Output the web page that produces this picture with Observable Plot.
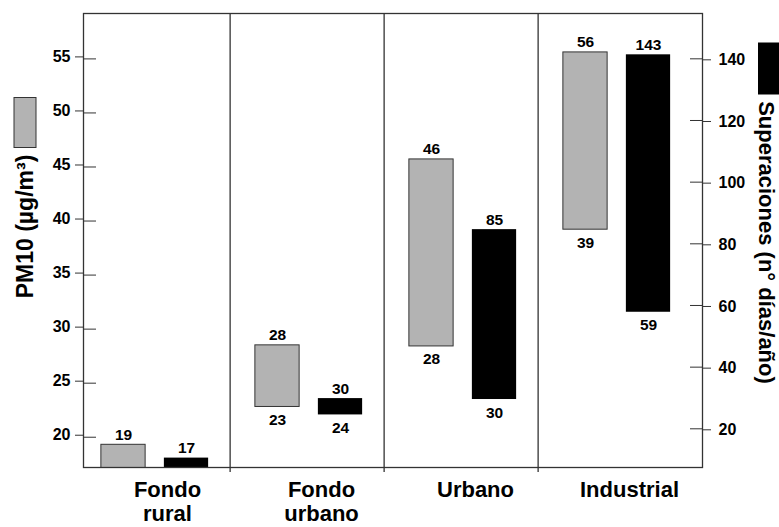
<!DOCTYPE html>
<html><head><meta charset="utf-8">
<script src="https://cdn.jsdelivr.net/npm/d3@7"></script>
<script src="https://cdn.jsdelivr.net/npm/@observablehq/plot@0.6"></script>
<style>
body{margin:0;background:#fff;}
#chart{width:779px;height:527px;}
#chart svg text{font-weight:bold;}
</style></head><body><div id="chart"></div>
<script>
// ---- data ----
const categories = ["Fondo\nrural", "Fondo\nurbano", "Urbano", "Industrial"];
// PM10 (µg/m³): bar extents as drawn + printed labels
const pm10Low  = [15, 22.8, 28.4, 39.2];
const pm10High = [19.3, 28.5, 45.7, 55.6];
const pm10LowLabel  = [null, "23", "28", "39"];
const pm10HighLabel = ["19", "28", "46", "56"];
// Superaciones (nº días/año): bar extents as drawn + printed labels
const supLow  = [0, 24.5, 29.5, 57.8];
const supHigh = [10.5, 29.8, 84.6, 141.3];
const supLowLabel  = [null, "24", "30", "59"];
const supHighLabel = ["17", "30", "85", "143"];
// axes
const pm10Ticks = [20, 25, 30, 35, 40, 45, 50, 55];
const supTicks = [20, 40, 60, 80, 100, 120, 140];
const pm10Domain = [17.2, 59.2];
const supDomain = [7.45, 154.7];
const leftTitle = "PM10 (µg/m³)";
const rightTitle = "Superaciones (n° días/año)";

// ---- layout ----
const W = 779, H = 527, mL = 83, mR = 77, mT = 13, mB = 60;
const plotW = W - mL - mR;
const bw = plotW / categories.length;
const grayCx = -39, blackCx = 24, barW = 45;
const ins = cx => ({insetLeft: bw / 2 + cx - barW / 2, insetRight: bw / 2 - cx - barW / 2});
const toY = d3.scaleLinear().domain(supDomain).range(pm10Domain);
const ink = "#333";
const B = "bold";

const pmRows = categories.map((c, i) => ({cat: c, lo: pm10Low[i], hi: pm10High[i], loL: pm10LowLabel[i], hiL: pm10HighLabel[i]}));
const supRows = categories.map((c, i) => ({cat: c, lo: toY(supLow[i]), hi: toY(supHigh[i]), loL: supLowLabel[i], hiL: supHighLabel[i]}));

const chart = Plot.plot({
  width: W, height: H,
  marginLeft: mL, marginRight: mR, marginTop: mT, marginBottom: mB,
  style: {fontFamily: "'Liberation Sans', Arial, sans-serif", fontWeight: "bold", color: "#000", background: "#fff"},
  x: {type: "band", domain: categories, padding: 0, axis: null},
  y: {domain: pm10Domain, axis: null},
  marks: [
    Plot.barY(pmRows, {x: "cat", y1: "lo", y2: "hi", fill: "#b3b3b3", stroke: ink, strokeWidth: 1, clip: true, ...ins(grayCx)}),
    Plot.barY(supRows, {x: "cat", y1: "lo", y2: "hi", fill: "#000", clip: true, ...ins(blackCx)}),
    Plot.ruleX(categories.slice(1), {x: d => d, dx: -bw / 2 - 9, stroke: ink, strokeWidth: 1.3, insetBottom: -5}),
    Plot.frame({stroke: ink, strokeWidth: 1.3}),
    Plot.tickY(pm10Ticks, {y: d => d, stroke: ink, insetRight: plotW - 13}),
    Plot.tickY(supTicks, {y: d => toY(d), stroke: ink, insetLeft: plotW - 12}),
    Plot.axisY(pm10Ticks, {anchor: "left", tickSize: 8, tickPadding: 5, fontSize: 16, fontWeight: B, label: null, stroke: ink, dy: -2}),
    Plot.axisY(supTicks.map(d => toY(d)), {anchor: "right", tickSize: 8, tickPadding: 8, fontSize: 16, fontWeight: B, label: null, stroke: ink,
      tickFormat: d => String(Math.round(toY.invert(d))), dy: 1}),
    Plot.axisX({anchor: "bottom", tickSize: 0, tickPadding: 12, fontSize: 22, fontWeight: B, lineHeight: 1.1, label: null, dx: 5}),
    Plot.text(pmRows.filter(d => d.hiL), {x: "cat", y: "hi", text: "hiL", dx: grayCx, dy: -5, lineAnchor: "bottom", fontSize: 15.5, fontWeight: B}),
    Plot.text(pmRows.filter(d => d.loL), {x: "cat", y: "lo", text: "loL", dx: grayCx, dy: 7, lineAnchor: "top", fontSize: 15.5, fontWeight: B}),
    Plot.text(supRows.filter(d => d.hiL), {x: "cat", y: "hi", text: "hiL", dx: blackCx, dy: -5, lineAnchor: "bottom", fontSize: 15.5, fontWeight: B}),
    Plot.text(supRows.filter(d => d.loL), {x: "cat", y: "lo", text: "loL", dx: blackCx, dy: 7, lineAnchor: "top", fontSize: 15.5, fontWeight: B}),
    Plot.text([leftTitle], {text: d => d, frameAnchor: "left", textAnchor: "middle", dx: -58, dy: -14, rotate: -90, fontSize: 23, fontWeight: B}),
    Plot.text([rightTitle], {text: d => d, frameAnchor: "right", textAnchor: "middle", dx: 64, dy: 2, rotate: 90, fontSize: 22, fontWeight: B})
  ]
});

// legend swatches
const svg = d3.select(chart);
svg.append("rect").attr("x", 14).attr("y", 97.5).attr("width", 22).attr("height", 50)
  .attr("fill", "#b3b3b3").attr("stroke", ink);
svg.append("rect").attr("x", 758).attr("y", 42.5).attr("width", 25).attr("height", 52)
  .attr("fill", "#000");
document.getElementById("chart").appendChild(chart);
</script></body></html>
